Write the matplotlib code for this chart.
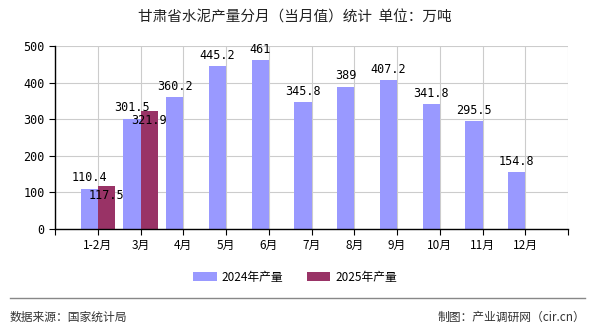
import matplotlib
matplotlib.use('Agg')
import matplotlib.pyplot as plt
import numpy as np

plt.rcParams['font.family'] = ['Noto Sans CJK SC', 'DejaVu Sans']

months = ['1-2月', '3月', '4月', '5月', '6月', '7月', '8月', '9月', '10月', '11月', '12月']
output_2024 = [110.4, 301.5, 360.2, 445.2, 461, 345.8, 389, 407.2, 341.8, 295.5, 154.8]
output_2025 = [117.5, 321.9]
series_names = ['2024年产量', '2025年产量']
title = '甘肃省水泥产量分月（当月值）统计  单位：万吨'

fig = plt.figure(figsize=(5.9, 3.3), dpi=100)
ax = fig.add_axes([55 / 590, 1 - 229 / 330, (568 - 55) / 590, (229 - 46) / 330])

x = np.arange(len(months))
w = 0.4
b1 = ax.bar(x - w / 2, output_2024, width=w, color='#9999FF', label=series_names[0], zorder=2)
x2 = np.arange(len(output_2025))
b2 = ax.bar(x2 + w / 2, output_2025, width=w, color='#993366', label=series_names[1], zorder=2)

num_font = dict(family=['DejaVu Sans Mono'], fontsize=8.5)
for xi, v in zip(x, output_2024):
    ax.annotate(f'{v:g}', (xi - w / 2, v), xytext=(0, 3), textcoords='offset points',
                ha='center', va='bottom', **num_font)
for xi, v in zip(x2, output_2025):
    ax.annotate(f'{v:g}', (xi + w / 2, v), xytext=(0, -2), textcoords='offset points',
                ha='center', va='top', **num_font)

ax.set_xlim(-1, len(months))
ax.set_ylim(0, 500)
ax.set_xticks(np.arange(-1, len(months) + 1))
ax.set_xticklabels([''] + months + [''], fontsize=8.5)
ax.set_yticks(np.arange(0, 501, 100))
ax.tick_params(axis='y', labelsize=8.5, length=4)
ax.tick_params(axis='x', length=4)
for lbl in ax.get_yticklabels():
    lbl.set_family(['DejaVu Sans Mono'])
ax.grid(True, color='#cccccc', linewidth=0.8, zorder=0)
ax.spines['top'].set_visible(False)
ax.spines['right'].set_visible(False)
ax.spines['left'].set_linewidth(1.0)
ax.spines['bottom'].set_linewidth(1.0)
ax.set_axisbelow(True)

fig.text(0.5, 1 - 18 / 330, title, ha='center', va='center', fontsize=10.5, color='#222222')

fig.legend(handles=[b1, b2], loc='center', bbox_to_anchor=(0.5, 1 - 277 / 330),
           ncol=2, frameon=False, fontsize=8.5, handlelength=2.0, handleheight=0.8,
           columnspacing=2.0, handletextpad=0.4)

fig.add_artist(plt.Line2D([10 / 590, 585 / 590], [1 - 298 / 330] * 2,
                          color='#888888', linewidth=1.0))
fig.text(10 / 590, 1 - 317 / 330, '数据来源：国家统计局', ha='left', va='center',
         fontsize=8.5, color='#333333')
fig.text(585 / 590, 1 - 317 / 330, '制图：产业调研网（cir.cn）', ha='right', va='center',
         fontsize=8.5, color='#333333')

fig.savefig('out.png', dpi=100)
